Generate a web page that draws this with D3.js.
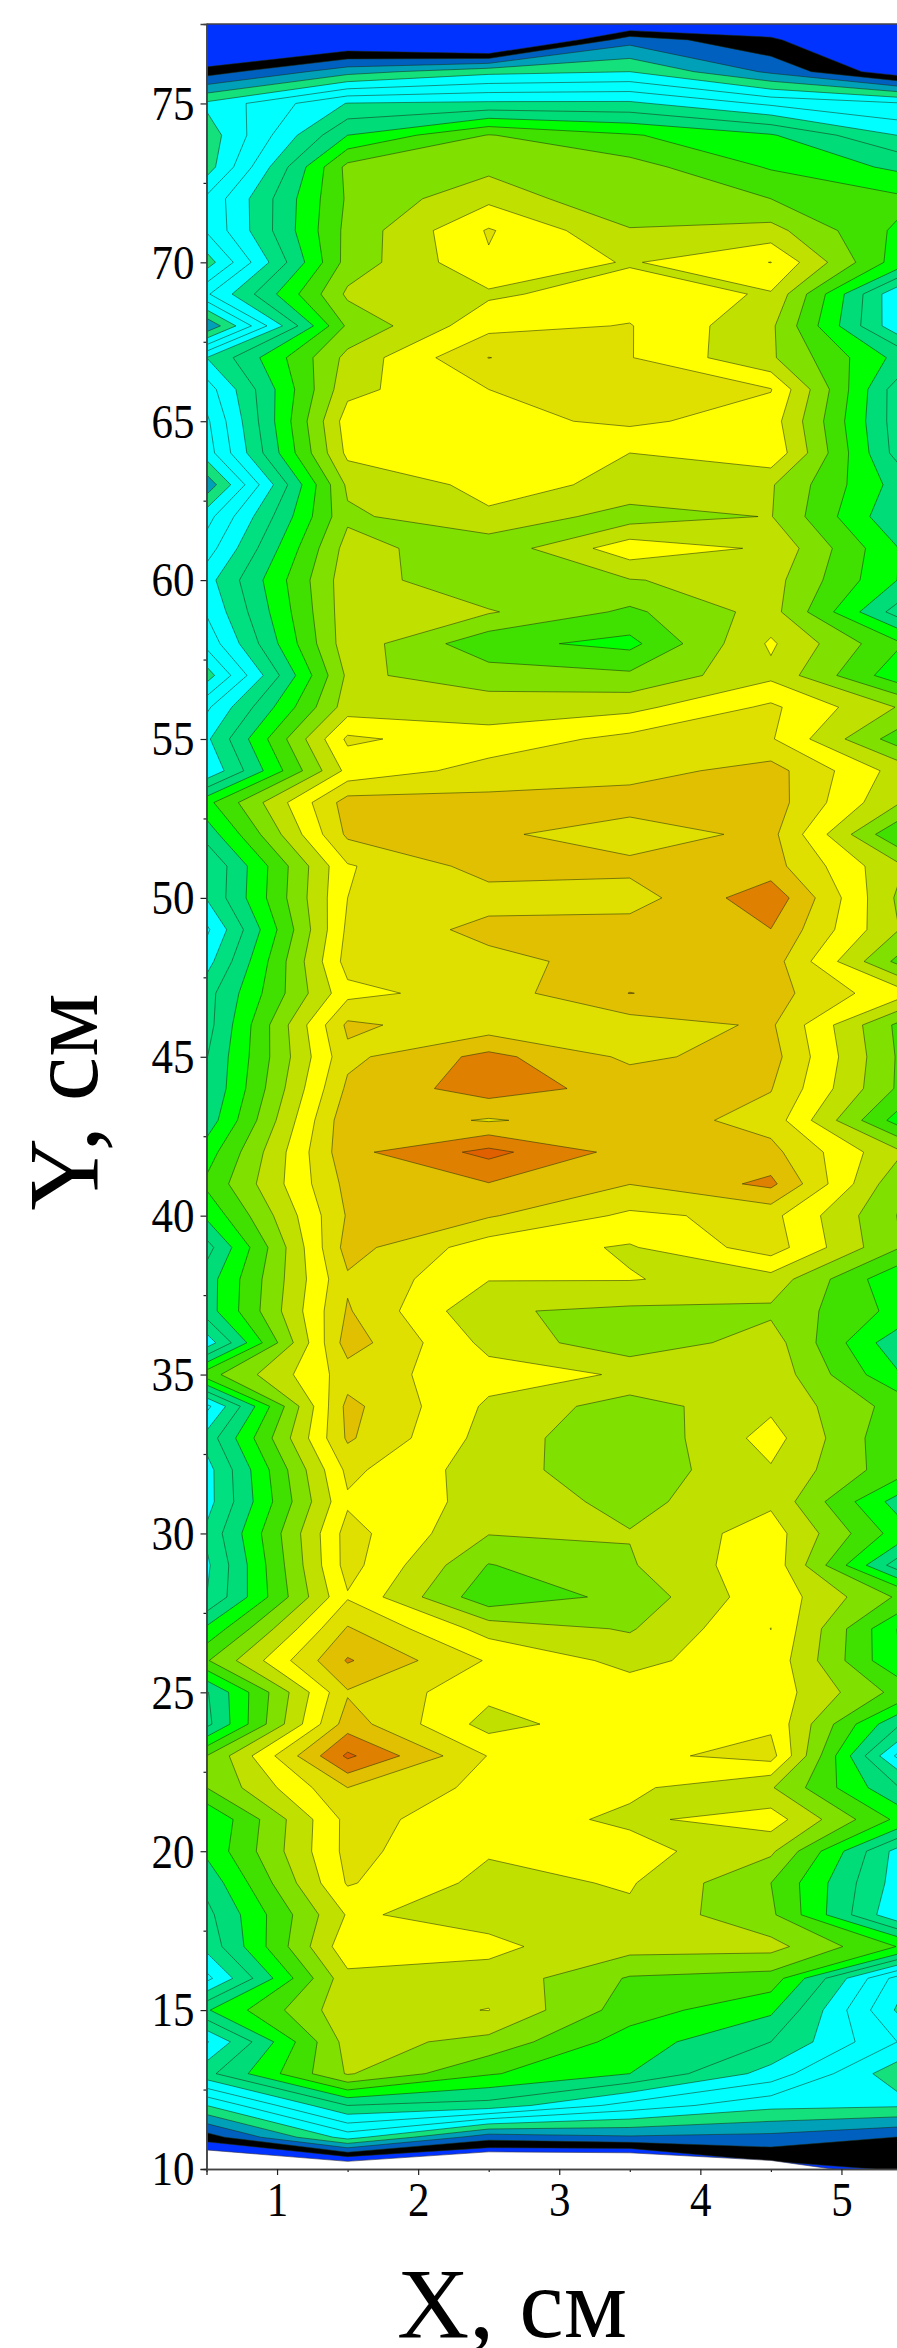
<!DOCTYPE html>
<html><head><meta charset="utf-8">
<style>html,body{margin:0;padding:0;background:#fff;overflow:hidden}svg{display:block}text{font-family:"Liberation Serif",serif;fill:#000}</style>
<script src="https://cdnjs.cloudflare.com/ajax/libs/d3/7.8.5/d3.min.js"></script>
</head><body><div id="c"></div>
<script>
const xCols=[0.5,1.5,2.5,3.5,4.5,5.5];
const yRows=d3.range(78,9,-1);
const colA=[-3,-.8,2.5,6.2,5.4,5.5,7.2,7.1,5.5,7.85,4.1,9,7.5,6.8,6.5,4.3,6.6,7.5,8.6,8.1,7.3,5.5,7.8,8.8,8.1,11.7,10.4,9,9.05,7.8,8.6,9.6,9.6,9.95,10,10.4,11.5,12.2,11.2,9.6,10.5,10.5,8.4,12.6,7.7,9.4,8.6,8.6,9.2,8.8,9,11.2,12.9,9.9,9.7,13,13,11,11.2,10.3,9.7,9.3,7.7,10.9,7.9,9.7,6,2.5,-1];
const colB=[-1,.6,4.6,9.05,11,13.3,13.15,13.3,13.4,14.2,13.2,14.3,14.7,15.5,15.25,14.2,13.8,14.4,14.6,14.6,14.6,14.2,14.5,16.2,15.3,17.45,17.2,15.9,16,16.2,16.4,15.7,17.2,16.75,17.2,17.7,17.7,17.3,17.1,17.4,16.85,17.1,17.5,16.5,17.3,17.15,16.25,15.85,16.4,16.4,15.9,17.1,18.1,16.9,17.5,19.2,17,16.3,16.3,16.1,15.1,15.7,14.7,14.7,14.4,14.1,10,6.4,-.8];
const colC=[-3,-.8,5.7,9.2,13.05,13.7,14.75,16.1,15.88,14.83,15.68,17.02,16,15.7,15.5,15.3,14.85,13.3,13.05,14.1,12.3,13.5,14.5,15.4,16.4,17.3,17.2,17.4,16.6,17.3,16.7,16.5,16.4,18.3,18.5,16.9,19.3,17.95,17.1,15.45,15.05,14.1,14.7,15.4,14.82,14.6,14.45,14.65,14.05,12.95,12.3,14.6,15.9,15.3,14.6,15.95,15.7,15.5,15.1,14.7,14.7,15.2,14.7,15.02,13.7,12.1,9.6,3.4,-.85];
const colD=[-1.9,3.6,6,9.2,12.1,13.4,13,14.1,14.9,15.5,16.05,16.05,16.6,16.2,15,14.8,13.5,15.6,13.95,12.8,11.7,13.2,14.7,16.3,16.6,17.5,16.4,17.3,16.5,17.5,17.4,18.02,16.5,16.8,17.6,17.6,17.6,17.02,15.8,14.9,15.05,13.8,13.3,14.9,13.5,13.1,13.3,13.7,14.05,13.9,13.3,13.9,14.7,15.5,15.7,15.7,15.2,14.8,15.4,15.1,14.8,14.4,12.9,12.5,11.5,11,7.6,3.85,-1.4];
const colE=[.4,2.15,3.8,7.8,11.1,11.9,13,14.35,16.02,14.9,14.2,14.15,16.05,15.5,15.8,14.1,14.05,14.85,14.4,14.4,15.15,14.75,16.2,16.1,17.4,17.5,17.3,17.4,18.7,17.98,17.5,17.4,17.15,17.4,17.05,16.6,17.3,18.25,16.3,16.5,14.6,13.8,14.5,14.7,14.8,15.4,14.9,14.8,15.5,15.7,15.7,16.01,15.7,15.6,15.8,16.4,14.1,15.5,14.2,13,13.2,14.35,12.6,11.2,10,8.6,6.3,3.7,1.45];
const colF=[-2,.3,1,7,8.75,10.67,12.1,11.5,11,7.4,7.6,10.3,8.7,8.8,8.9,10.2,9.7,10.6,10.6,9,11.8,11,13.7,12.1,14.3,13.7,11.5,13.8,13.3,13.6,12.2,15.05,12.3,12.4,12.4,11,13.8,12.7,12.6,12.7,10.8,11.45,9.8,10.7,12.35,11.8,12.1,10.1,11.1,8.75,12.55,10.4,10.55,12.35,9.5,6.8,9.6,11.35,8,8.05,7.6,11.7,5.9,5.25,6.65,5,6.1,2.9,2.2];
const columns=[colA,colB,colC,colD,colE,colF];
const bandLevels=[2,3,4,5,6,7,8,9,10,11,12,13,14,15,16,17,18,19];
const bandColors=["#000000","#0060c0","#00a0b8","#14e07c","#00ffff","#00ffff","#00ffff","#00e080","#00dc78","#00ff00","#40e000","#80e000","#c0e000","#ffff00","#e0e000","#e0c000","#e08000","#e06000"];
const blankEdge=[10.6,10.24,10.54,10.51,10.27,9.65];
const xTicks=[1,2,3,4,5];
const xMinor=[0.5,1.5,2.5,3.5,4.5];
const yTicks=d3.range(10,76,5);
const yMinor=d3.range(12.5,76,5);

const W=897,H=2348;
const x=d3.scaleLinear().domain([0.5,5.5]).range([206.5,912]);
const y=d3.scaleLinear().domain([10,77.5]).range([2169,24]);
const svg=d3.select("#c").append("svg").attr("width",W).attr("height",H);
svg.append("defs").append("clipPath").attr("id","plot").append("rect")
  .attr("x",x(0.5)).attr("y",y(77.5)).attr("width",x(5.5)-x(0.5)).attr("height",y(10)-y(77.5));
const g=svg.append("g").attr("clip-path","url(#plot)");
g.append("rect").attr("x",x(0.5)).attr("y",y(77.5)).attr("width",x(5.5)-x(0.5)).attr("height",y(10)-y(77.5)).attr("fill","#0033ff");

const n=xCols.length,m=yRows.length;
const values=[];
for(let j=0;j<m;j++)for(let i=0;i<n;i++)values.push(columns[i][j]);
const contours=d3.contours().size([n,m]).smooth(true).thresholds(bandLevels)(values);
const path=d3.geoPath(d3.geoTransform({point(px,py){
  this.stream.point(x(xCols[0]+(px-0.5)),y(yRows[0]-(py-0.5)));
}}));
g.selectAll("path.band").data(contours).join("path").attr("class","band")
  .attr("d",path).attr("fill",(d,i)=>bandColors[i])
  .attr("stroke","#1a2a10").attr("stroke-opacity",.75).attr("stroke-width",.7).attr("stroke-linejoin","round");

g.append("path").datum(blankEdge)
  .attr("d",d3.area().x((d,i)=>x(xCols[i])).y0(y(9)).y1(d=>y(d)))
  .attr("fill","#fff").attr("stroke","#334").attr("stroke-width",.6);

const axisStyle=s=>{s.selectAll("path,line").attr("stroke","#222").attr("stroke-width",1.2);s.selectAll("text").attr("font-size",48).attr("fill","#000").attr("lengthAdjust","spacingAndGlyphs").attr("textLength",function(){return this.textContent.length*21.5;});s.select(".domain").attr("stroke","#444").attr("stroke-width",1.5);};
svg.append("g").attr("transform",`translate(0,${y(10)})`)
  .call(d3.axisBottom(x).tickValues(xMinor).tickSize(3).tickFormat("")).call(axisStyle);
svg.append("g").attr("transform",`translate(0,${y(10)})`)
  .call(d3.axisBottom(x).tickValues(xTicks).tickSize(6).tickPadding(3).tickFormat(d3.format("d"))).call(axisStyle)
  .selectAll("text").attr("dy",null).attr("y",47);
svg.append("g").attr("transform",`translate(${x(0.5)},0)`)
  .call(d3.axisLeft(y).tickValues(yMinor).tickSize(3).tickFormat("")).call(axisStyle);
svg.append("g").attr("transform",`translate(${x(0.5)},0)`)
  .call(d3.axisLeft(y).tickValues(yTicks).tickSize(6).tickPadding(6).tickFormat(d3.format("d"))).call(axisStyle)
  .selectAll("text").attr("dy","0.33em");
svg.append("line").attr("x1",x(0.5)).attr("x2",W).attr("y1",y(77.5)).attr("y2",y(77.5)).attr("stroke","#444").attr("stroke-width",1.5);

svg.append("text").attr("x",512).attr("y",2337).attr("text-anchor","middle").attr("font-size",100).text("X, см");
svg.append("text").attr("transform","translate(97,1102) rotate(-90)").attr("text-anchor","middle").attr("font-size",100).text("Y, см");
</script></body></html>
